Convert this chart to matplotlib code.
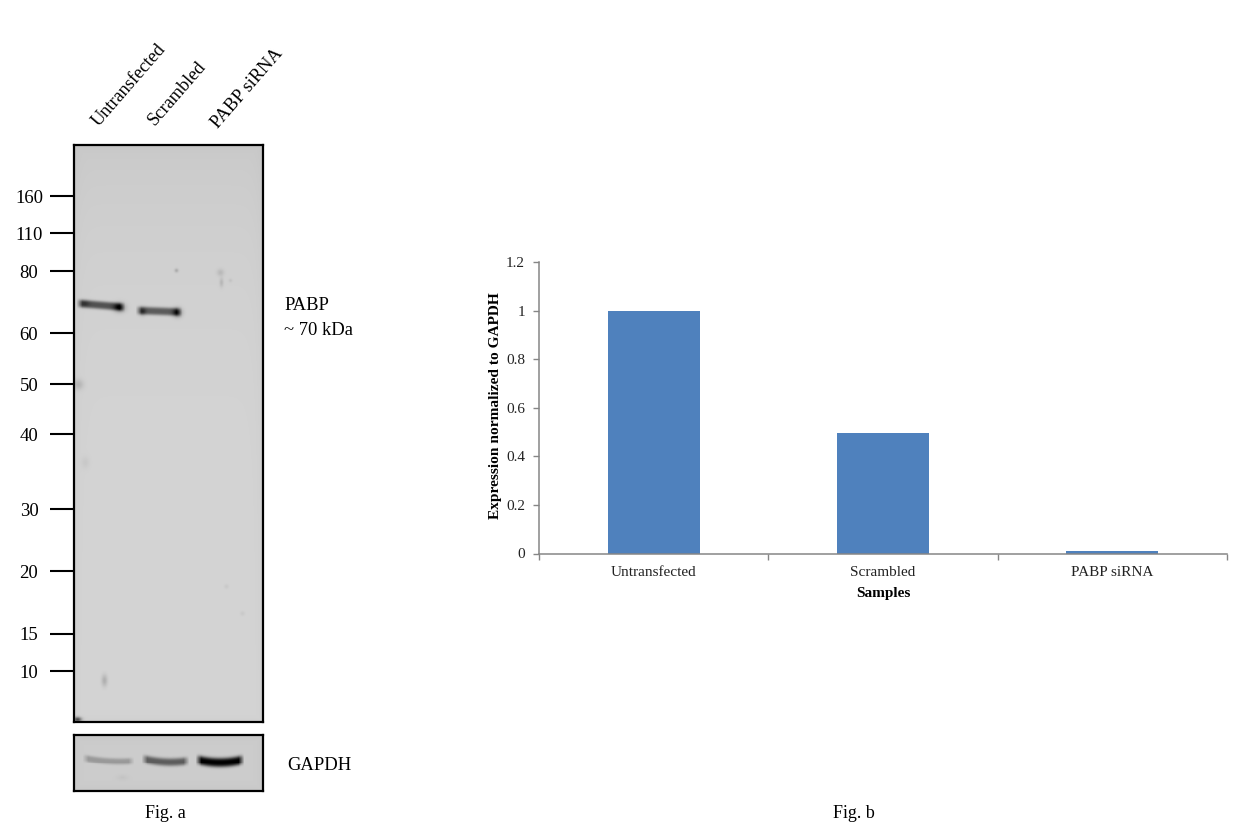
import numpy as np
import matplotlib
matplotlib.use("Agg")
import matplotlib.pyplot as plt

plt.rcParams["font.family"] = ["Liberation Serif", "DejaVu Serif"]

FIG_W, FIG_H = 1246, 834

# bar chart values
samples = ["Untransfected", "Scrambled", "PABP siRNA"]
expression = [1.0, 0.497, 0.01]
y_ticks = [0, 0.2, 0.4, 0.6, 0.8, 1, 1.2]
y_tick_labels = ["0", "0.2", "0.4", "0.6", "0.8", "1", "1.2"]

# ladder of the blot
ladder_labels = ["160", "110", "80", "60", "50", "40", "30", "20", "15", "10"]
ladder_rows = [196, 233, 271, 333, 384, 434, 509, 571, 634, 671]

# bands: x start, x end, row at start, row at end, sag, half height, darkness
pabp_bands = [
    (79, 122, 304, 307.5, 0, 4.0, 0.50),
    (138, 180, 311, 312.5, 0, 4.0, 0.46),
]
gapdh_bands = [
    (85, 131, 758, 761, 1.5, 3.6, 0.20),
    (144, 187, 759, 761, 2.0, 4.4, 0.44),
    (199, 242, 760, 760, 2.5, 5.0, 0.80),
]
# dark ends of the bands and faint specks: x, y, x spread, y spread, darkness
pabp_spots = [
    (119, 308, 5.5, 4.4, 0.36),
    (84, 304, 5.0, 3.6, 0.12),
    (178, 313, 4.5, 4.4, 0.36),
    (142, 312, 3.5, 4.0, 0.20),
    (177, 271, 2.0, 2.0, 0.14),
    (221, 273, 3.5, 3.5, 0.09),
    (222, 283, 2.0, 4.5, 0.10),
    (231, 281, 2.0, 2.0, 0.05),
    (78, 385, 5.0, 5.0, 0.11),
    (85, 463, 4.0, 6.0, 0.04),
    (104, 681, 3.0, 6.0, 0.14),
    (77, 720, 4.0, 2.5, 0.50),
    (227, 587, 2.5, 2.5, 0.04),
    (243, 614, 2.5, 2.5, 0.04),
]
gapdh_spots = [(122, 778, 6.0, 3.0, 0.03)]


def px_axes(fig, left, top, right, bottom):
    return fig.add_axes([left / FIG_W, 1 - bottom / FIG_H,
                         (right - left) / FIG_W, (bottom - top) / FIG_H])


def blot_image(left, top, right, bottom, base, top_shade, bands, spots):
    xx, yy = np.meshgrid(np.arange(left, right + 1), np.arange(top, bottom + 1))
    # membrane is darker at its edges and along the top
    edge = np.minimum(np.minimum(xx - left, right - xx), np.minimum(yy - top, bottom - yy))
    ink = 0.02 * np.exp(-edge / 5.0)
    ink += top_shade * np.exp(-(yy - top) / 130.0)
    for x0, x1, y0, y1, sag, half, dark in bands:
        t = np.clip((xx - x0) / (x1 - x0), 0, 1)
        centre = y0 + (y1 - y0) * t + sag * 4 * t * (1 - t)
        across = np.exp(-np.abs((yy - centre) / half) ** 3)
        along = np.clip((xx - x0 + 3) / 6, 0, 1) * np.clip((x1 - xx + 3) / 6, 0, 1)
        ink += dark * across * along
    for x0, y0, sx, sy, dark in spots:
        ink += dark * np.exp(-((xx - x0) / sx) ** 2 - ((yy - y0) / sy) ** 2)
    return np.clip(base - ink, 0, 1)


fig = plt.figure(figsize=(FIG_W / 100, FIG_H / 100), dpi=100)

# Fig. a main blot
ax_blot = px_axes(fig, 74, 145, 263, 722)
img = blot_image(74, 145, 263, 722, 0.83, 0.04, pabp_bands, pabp_spots)
ax_blot.imshow(img, cmap="gray", vmin=0, vmax=1, aspect="auto",
               extent=(74, 263, 722, 145), interpolation="nearest")
ax_blot.set_xticks([])
ax_blot.set_yticks(ladder_rows)
ax_blot.set_yticklabels([])
ax_blot.tick_params(axis="y", length=17.3, width=1.5)
for s in ax_blot.spines.values():
    s.set_linewidth(1.6)

# GAPDH strip
ax_gapdh = px_axes(fig, 74, 735, 263, 791)
img = blot_image(74, 735, 263, 791, 0.80, 0.0, gapdh_bands, gapdh_spots)
ax_gapdh.imshow(img, cmap="gray", vmin=0, vmax=1, aspect="auto",
                extent=(74, 263, 791, 735), interpolation="nearest")
ax_gapdh.set_xticks([])
ax_gapdh.set_yticks([])
for s in ax_gapdh.spines.values():
    s.set_linewidth(1.6)

# lane labels and captions sit on a pixel overlay
overlay = fig.add_axes([0, 0, 1, 1], facecolor="none")
overlay.set_xlim(0, FIG_W)
overlay.set_ylim(FIG_H, 0)
overlay.axis("off")
for label, row in zip(ladder_labels, ladder_rows):
    overlay.text(29, row + 2, label, fontsize=13.5, ha="center", va="center")
for label, x, y in zip(samples, [99, 155, 218], [127, 126, 129]):
    overlay.text(x, y, label, rotation=49, fontsize=13.2, rotation_mode="anchor",
                 ha="left", va="baseline")
overlay.text(284, 306, "PABP", fontsize=13.4, ha="left", va="center")
overlay.text(284, 330, "~ 70 kDa", fontsize=13.4, ha="left", va="center")
overlay.text(287, 765, "GAPDH", fontsize=13.4, ha="left", va="center")
overlay.text(165, 814, "Fig. a", fontsize=13, ha="center", va="center")
overlay.text(854, 814, "Fig. b", fontsize=13, ha="center", va="center")

# Fig. b bar chart
ax = px_axes(fig, 539, 262, 1227, 553.5)
ax.bar(range(len(samples)), expression, width=0.4, color="#4f81bd")
ax.set_xlim(-0.5, 2.5)
ax.set_ylim(0, 1.2)
ax.set_yticks(y_ticks)
ax.set_yticklabels(y_tick_labels, fontsize=11, color="#222222")
ax.set_xticks([-0.5, 0.5, 1.5, 2.5])
ax.set_xticklabels([])
ax.set_xticks(range(len(samples)), labels=samples, minor=True, fontsize=11, color="#222222")
ax.tick_params(axis="x", which="minor", length=0, pad=9)
ax.tick_params(axis="both", which="major", length=4, width=1, color="#868686")
ax.tick_params(axis="y", pad=6)
ax.spines["top"].set_visible(False)
ax.spines["right"].set_visible(False)
for side in ("left", "bottom"):
    ax.spines[side].set_color("#868686")
    ax.spines[side].set_linewidth(1.1)
overlay.text(883, 594, "Samples", fontsize=11, fontweight="bold", ha="center", va="center")
overlay.text(496, 405.5, "Expression normalized to GAPDH", fontsize=11.1, fontweight="bold",
             rotation=90, ha="center", va="center")

fig.savefig("out.png", dpi=100)
